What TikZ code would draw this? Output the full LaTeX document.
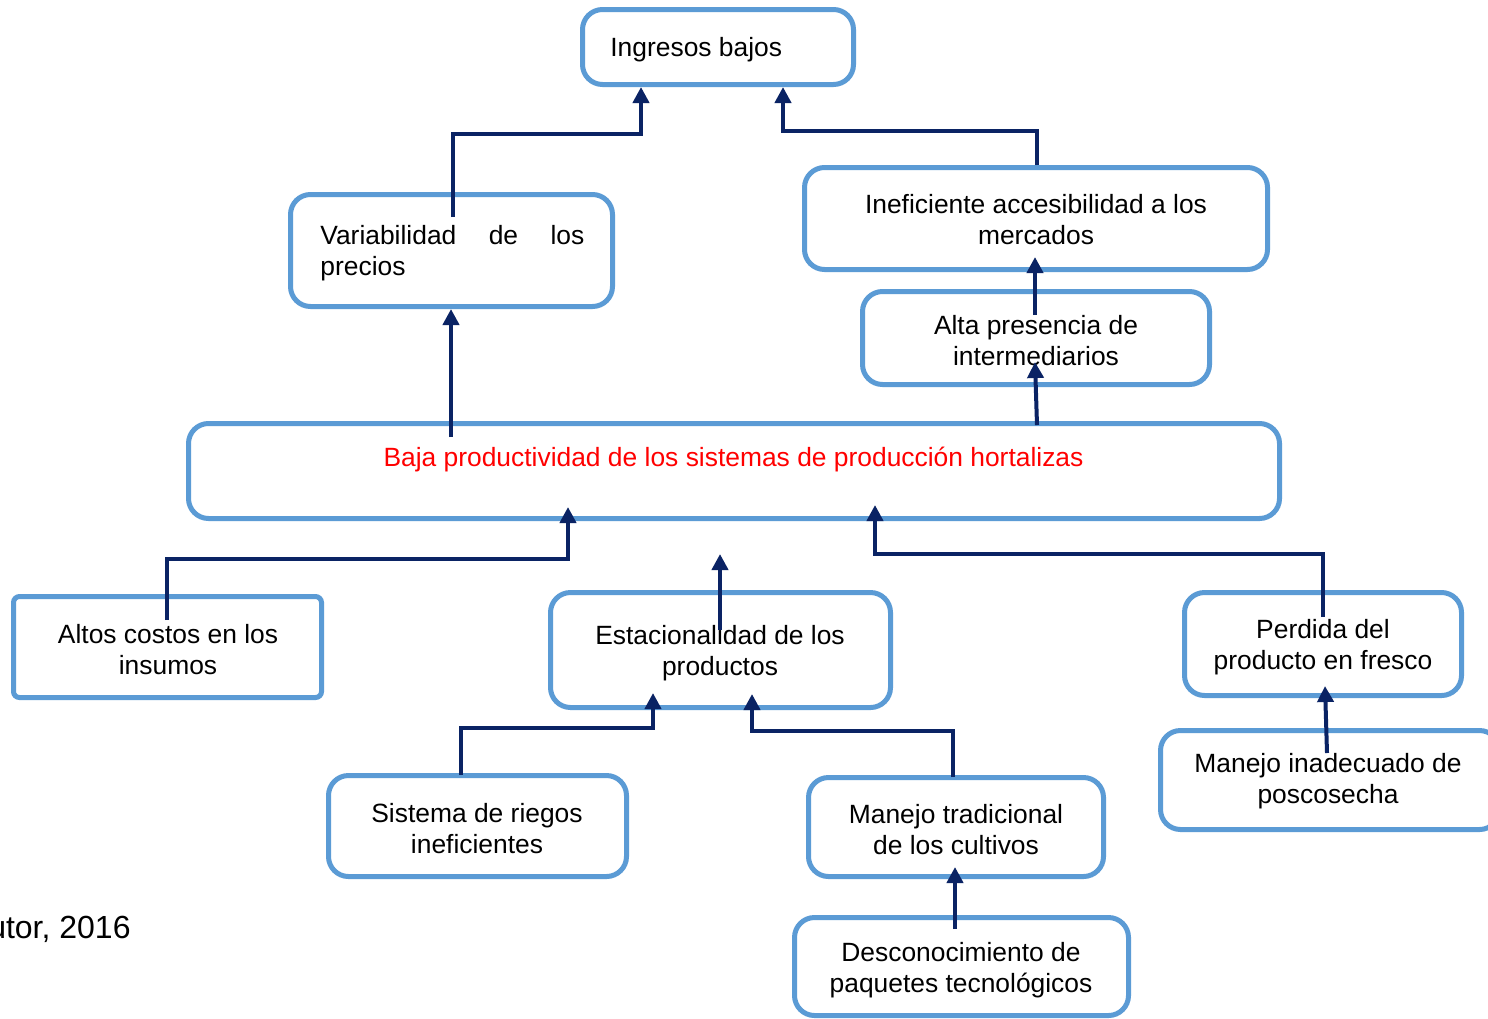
\documentclass[tikz,border=0pt]{standalone}
\usepackage{fontspec}
\setmainfont{Liberation Sans}
\usetikzlibrary{arrows.meta}
\definecolor{boxblue}{RGB}{91,155,213}
\definecolor{navy}{RGB}{10,35,100}
\begin{document}
\begin{tikzpicture}[x=0.5pt,y=-0.5pt,
  box/.style={draw=boxblue, line width=2.5pt, rounded corners=10pt, fill=white, inner sep=0pt},
  txt/.style={inner sep=0pt, align=center, font=\fontsize{13.2}{15.5}\selectfont},
  arr/.style={draw=navy, line width=2pt, -{Triangle[length=8pt,width=8pt]}}]
\clip (0,0) rectangle (1488,1018);
\fill[white] (0,0) rectangle (1488,1018);
% boxes (path sizes in pt = px/2)
\node[box, minimum width=135.5pt, minimum height=37.5pt] (ing) at (718,47) {};
\node[box, minimum width=161pt, minimum height=56pt] (var) at (451.5,250.5) {};
\node[box, minimum width=231.5pt, minimum height=51pt] (inef) at (1036,218.5) {};
\node[box, minimum width=173.5pt, minimum height=46.5pt] (alta) at (1036,338) {};
\node[box, minimum width=545.5pt, minimum height=47.5pt] (baja) at (734,471) {};
\node[box, rounded corners=3pt, minimum width=154pt, minimum height=50.5pt] (altos) at (167.5,647) {};
\node[box, minimum width=170pt, minimum height=57.5pt] (est) at (720.5,650) {};
\node[box, minimum width=138.5pt, minimum height=51.5pt] (perd) at (1323,644) {};
\node[box, minimum width=169.5pt, minimum height=49.5pt] (mane) at (1330,780) {};
\node[box, minimum width=149pt, minimum height=50.5pt] (sis) at (477.5,826) {};
\node[box, minimum width=147.5pt, minimum height=49.5pt] (mtrad) at (956,827) {};
\node[box, minimum width=167pt, minimum height=49pt] (desc) at (961.5,966.5) {};
% texts
\node[txt, anchor=west] (ingt) at (610,49.5) {Ingresos bajos};
\node[txt, anchor=west, text width=132pt, align=left] (vart) at (320,253.5) {Variabilidad\hfill de\hfill los\\precios};
\node[txt] (ineft) at (1036,220) {Ineficiente accesibilidad a los\\mercados};
\node[txt] (altat) at (1036,341) {Alta presencia de\\intermediarios};
\node[txt, text=red] (bajat) at (733.5,460) {Baja productividad de los sistemas de producción hortalizas};
\node[txt] (altost) at (168,649.5) {Altos costos en los\\insumos};
\node[txt] (estt) at (720,653.5) {Estacionalidad de los\\productos};
\node[txt] (perdt) at (1323,647) {Perdida del\\producto en fresco};
\node[txt] (manet) at (1328,781.5) {Manejo inadecuado de\\poscosecha};
\node[txt] (sist) at (477,828.5) {Sistema de riegos\\ineficientes};
\node[txt] (mtradt) at (956,829.5) {Manejo tradicional\\de los cultivos};
\node[txt] (desct) at (961,970) {Desconocimiento de\\paquetes tecnológicos};
\node[inner sep=0pt, anchor=east, font=\fontsize{16}{19}\selectfont] (autor) at (131,929) {Autor, 2016};
% connector points
\coordinate (a1s) at (453,217);  \coordinate (a1b) at (641,134);
\coordinate (a2b) at (783,131);
\coordinate (a3s) at (451,437);
\coordinate (a4s) at (1035,315); \coordinate (a4e) at (1035,257);
\coordinate (a5s) at (1037,425); \coordinate (a5e) at (1035,362);
\coordinate (a6s) at (167,620);  \coordinate (a6b) at (568,559); \coordinate (a6e) at (568,507);
\coordinate (a7s) at (720,630);  \coordinate (a7e) at (720,554);
\coordinate (a8s) at (1323,617); \coordinate (a8b) at (875,554); \coordinate (a8e) at (875,505);
\coordinate (a9s) at (461,775);  \coordinate (a9b) at (653,728); \coordinate (a9e) at (653,693);
\coordinate (a10s) at (953,777); \coordinate (a10b) at (752,731); \coordinate (a10e) at (752,694);
\coordinate (a11s) at (1327,753); \coordinate (a11e) at (1325,686);
\coordinate (a12s) at (955,929); \coordinate (a12e) at (955,867);
% connectors
\draw[arr] (a1s) |- (a1b) -- (a1b |- ing.south);
\draw[arr] (inef.north -| 1037,0) |- (a2b) -- (a2b |- ing.south);
\draw[arr] (a3s) -- (a3s |- var.south);
\draw[arr] (a4s) -- (a4e);
\draw[arr] (a5s) -- (a5e);
\draw[arr] (a6s) |- (a6b) -- (a6e);
\draw[arr] (a7s) -- (a7e);
\draw[arr] (a8s) |- (a8b) -- (a8e);
\draw[arr] (a9s) |- (a9b) -- (a9e);
\draw[arr] (a10s) |- (a10b) -- (a10e);
\draw[arr] (a11s) -- (a11e);
\draw[arr] (a12s) -- (a12e);
\end{tikzpicture}
\end{document}
